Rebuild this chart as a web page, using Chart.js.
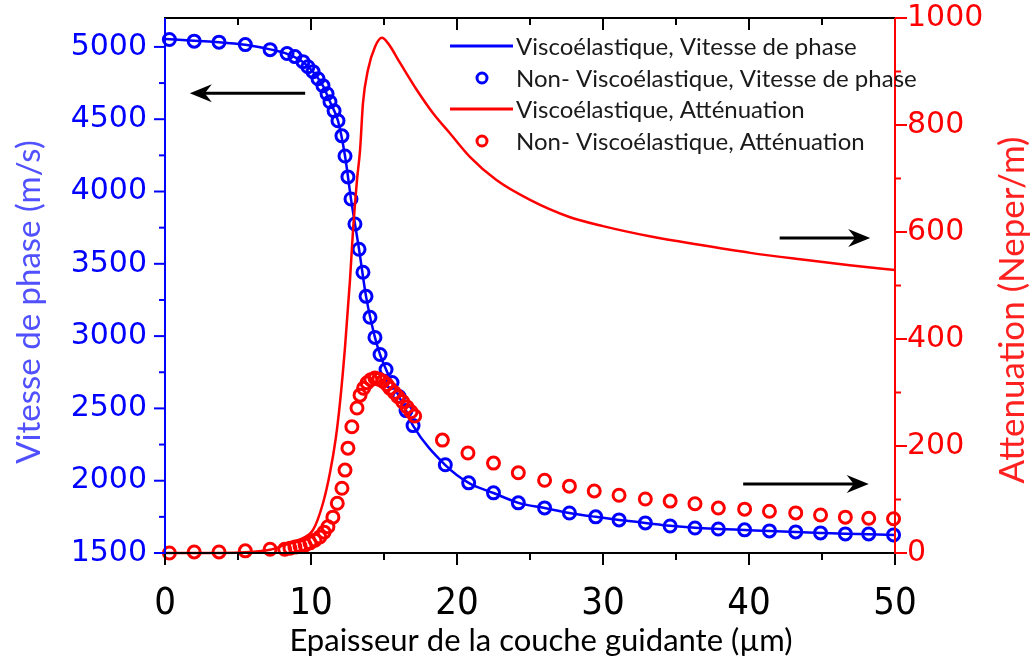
<!DOCTYPE html>
<html>
<head>
<meta charset="utf-8">
<script src="https://cdn.jsdelivr.net/npm/chart.js@4.4.1/dist/chart.umd.min.js"></script>
<style>
  html, body { margin: 0; padding: 0; background: #fff; }
  #wrap { width: 1031px; height: 666px; }
</style>
</head>
<body>
<div id="wrap"><canvas id="chart"></canvas></div>
<script>
// thickness of the guiding layer (µm)
const blueLineX = [0, 2.0, 3.7, 5.5, 7.2, 8.36, 9.45, 10.14, 10.82, 11.3, 11.85, 12.33, 12.74, 13.29, 13.77, 14.38, 14.73, 15.14, 15.55, 16.03, 16.51, 16.99, 19.2, 20.8, 22.5, 24.2, 26.0, 27.7, 29.5, 31.1, 32.9, 34.6, 36.3, 37.9, 39.7, 41.4, 43.2, 44.9, 46.6, 48.2, 50];
const blueLineV = [5055, 5042, 5033, 5015, 4983, 4952, 4896, 4828, 4730, 4620, 4488, 4246, 3948, 3601, 3275, 2991, 2873, 2769, 2679, 2582, 2485, 2381, 2108, 1985, 1915, 1847, 1811, 1777, 1750, 1729, 1708, 1688, 1674, 1666, 1659, 1652, 1646, 1639, 1633, 1630, 1625];

const blueDotX = [0.3, 2.0, 3.7, 5.5, 7.2, 8.36, 8.9, 9.45, 9.79, 10.14, 10.48, 10.82, 11.1, 11.3, 11.58, 11.85, 12.12, 12.33, 12.53, 12.74, 13.01, 13.29, 13.56, 13.77, 14.04, 14.38, 14.73, 15.14, 15.55, 16.03, 16.51, 16.99, 19.2, 20.8, 22.5, 24.2, 26.0, 27.7, 29.5, 31.1, 32.9, 34.6, 36.3, 37.9, 39.7, 41.4, 43.2, 44.9, 46.6, 48.2, 49.9];
const blueDotV = [5051, 5040, 5033, 5016, 4981, 4954, 4933, 4898, 4863, 4829, 4780, 4732, 4676, 4621, 4558, 4489, 4385, 4246, 4101, 3948, 3775, 3601, 3442, 3275, 3130, 2991, 2873, 2769, 2679, 2582, 2485, 2381, 2110, 1985, 1916, 1847, 1812, 1777, 1750, 1729, 1708, 1687, 1673, 1666, 1660, 1653, 1646, 1639, 1632, 1632, 1625];

const redLineX = [0, 3.8, 5.8, 7.2, 8.56, 9.45, 10.14, 10.82, 11.3, 11.7, 12.0, 12.33, 12.67, 12.88, 13.15, 13.36, 13.56, 13.9, 14.38, 14.86, 15.27, 16.1, 17.26, 18.36, 19.5, 20.9, 22.7, 25.0, 27.7, 30.0, 33.2, 36.6, 40.1, 43.5, 46.9, 50];
const redLineA = [0, 0, 2, 6, 19, 28, 43, 93, 150, 215, 285, 385, 510, 604, 697, 753, 841, 903, 946, 963, 953, 916, 865, 822, 785, 740, 697, 660, 628, 611, 592, 576, 561, 549, 538, 529];

const redDotX = [0.3, 2.0, 3.7, 5.5, 7.2, 8.2, 8.56, 8.9, 9.25, 9.6, 9.93, 10.27, 10.6, 10.9, 11.16, 11.5, 11.8, 12.12, 12.33, 12.53, 12.8, 13.15, 13.36, 13.6, 13.84, 14.1, 14.38, 14.65, 14.93, 15.2, 15.4, 15.7, 15.96, 16.27, 16.58, 16.85, 17.1, 19.0, 20.75, 22.5, 24.2, 26.0, 27.7, 29.4, 31.1, 32.9, 34.6, 36.3, 37.9, 39.7, 41.4, 43.2, 44.9, 46.6, 48.2, 49.9];
const redDotA = [0, 2, 2, 4, 7, 7, 9, 11, 13, 15, 19, 24, 30, 39, 49, 67, 93, 121, 155, 196, 236, 271, 295, 308, 318, 324, 327, 325, 321, 315, 308, 300, 292, 283, 273, 264, 256, 211, 187, 168, 150, 136, 125, 116, 108, 101, 97, 92, 84, 82, 78, 75, 71, 67, 65, 64];

const xTicks = [0, 10, 20, 30, 40, 50];
const leftTicks = [1500, 2000, 2500, 3000, 3500, 4000, 4500, 5000];
const rightTicks = [0, 200, 400, 600, 800, 1000];

const labels = [
  'Viscoélastique, Vitesse de phase',
  'Non- Viscoélastique, Vitesse de phase',
  'Viscoélastique, Atténuation',
  'Non- Viscoélastique, Atténuation'
];

// arrows pointing to the axis each curve belongs to
const arrows = [
  { axis: 'y', from: 9.6, to: 1.7, at: 4680 },
  { axis: 'y1', from: 42.1, to: 48.3, at: 589 },
  { axis: 'y1', from: 39.6, to: 48.2, at: 129 }
];

const BLUE = '#0000ff';
const RED = '#ff0000';
const TEXT_FONT = 'Lato, "Open Sans", sans-serif';

function pts(xs, ys) {
  return xs.map((x, i) => ({ x: x, y: ys[i] }));
}

function noPad(s) {
  s.paddingTop = 0; s.paddingBottom = 0; s.paddingLeft = 0; s.paddingRight = 0;
}

const axisDecor = {
  id: 'axisDecor',
  afterDraw(chart) {
    const ctx = chart.ctx;
    const { left, right, top, bottom } = chart.chartArea;
    const xs = chart.scales.x, yl = chart.scales.y, yr = chart.scales.y1;
    function seg(x0, y0, x1, y1) {
      ctx.beginPath(); ctx.moveTo(x0, y0); ctx.lineTo(x1, y1); ctx.stroke();
    }
    ctx.save();
    ctx.lineWidth = 2;

    ctx.strokeStyle = '#000';
    seg(left - 1, bottom, right + 1, bottom);
    seg(left - 1, top, right + 1, top);
    for (let v = 0; v <= 50; v += 5) {
      const px = xs.getPixelForValue(v);
      const major = v % 10 === 0;
      seg(px, bottom, px, bottom + (major ? 12 : 7));
      if (v > 0 && v < 50) seg(px, top, px, top + (major ? 12 : 7));
    }

    ctx.strokeStyle = BLUE;
    seg(left, top, left, bottom + 1);
    for (let v = 1500; v <= 5000; v += 250) {
      const py = yl.getPixelForValue(v);
      seg(left, py, left - (v % 500 === 0 ? 11 : 6), py);
    }

    ctx.strokeStyle = RED;
    seg(right, top, right, bottom + 1);
    for (let v = 0; v <= 1000; v += 100) {
      const py = yr.getPixelForValue(v);
      seg(right, py, right + (v % 200 === 0 ? 12 : 6), py);
    }

    // arrows
    ctx.strokeStyle = '#000';
    ctx.fillStyle = '#000';
    ctx.lineWidth = 3;
    arrows.forEach(a => {
      const y = chart.scales[a.axis].getPixelForValue(a.at);
      const x0 = xs.getPixelForValue(a.from);
      const x1 = xs.getPixelForValue(a.to);
      const d = x1 > x0 ? 1 : -1;
      seg(x0, y, x1 - d * 10, y);
      ctx.beginPath();
      ctx.moveTo(x1, y);
      ctx.lineTo(x1 - d * 22, y - 9);
      ctx.lineTo(x1 - d * 15, y);
      ctx.lineTo(x1 - d * 22, y + 9);
      ctx.closePath();
      ctx.fill();
    });

    // axis titles (both vertical ones read bottom to top)
    ctx.textAlign = 'center';
    ctx.textBaseline = 'middle';
    ctx.font = '31px ' + TEXT_FONT;
    ctx.fillStyle = '#000';
    ctx.fillText('Epaisseur de la couche guidante (µm)', 541, 641);

    ctx.font = '33px ' + TEXT_FONT;
    ctx.fillStyle = '#5050ff';
    ctx.save();
    ctx.translate(29, 302);
    ctx.rotate(-Math.PI / 2);
    ctx.fillText('Vitesse de phase (m/s)', 0, 0);
    ctx.restore();

    ctx.font = '35px ' + TEXT_FONT;
    ctx.fillStyle = '#ff2020';
    ctx.save();
    ctx.translate(1013, 310);
    ctx.rotate(-Math.PI / 2);
    ctx.fillText('Attenuation (Neper/m)', 0, 0);
    ctx.restore();

    // legend
    ctx.font = '24px ' + TEXT_FONT;
    ctx.textAlign = 'left';
    const rows = [46, 78, 109, 141];
    chart.data.datasets.forEach((ds, i) => {
      const y = rows[i];
      ctx.strokeStyle = ds.borderColor;
      ctx.lineWidth = 3;
      if (ds.showLine) {
        seg(450, y, 513, y);
      } else {
        ctx.beginPath(); ctx.arc(482, y, 5, 0, Math.PI * 2); ctx.stroke();
      }
      ctx.fillStyle = '#1a1a1a';
      ctx.fillText(ds.label, 516, y + 1);
    });
    ctx.restore();
  }
};

const ctx = document.getElementById('chart').getContext('2d');
new Chart(ctx, {
  type: 'scatter',
  data: {
    datasets: [{
      label: labels[0],
      data: pts(blueLineX, blueLineV),
      yAxisID: 'y',
      showLine: true,
      borderColor: BLUE,
      borderWidth: 2.5,
      pointRadius: 0,
      cubicInterpolationMode: 'monotone',
      order: 4,
      clip: 6
    }, {
      label: labels[1],
      data: pts(blueDotX, blueDotV),
      yAxisID: 'y',
      showLine: false,
      borderColor: BLUE,
      backgroundColor: 'rgba(0,0,0,0)',
      pointRadius: 6,
      pointBorderWidth: 3,
      order: 3,
      clip: 8
    }, {
      label: labels[2],
      data: pts(redLineX, redLineA),
      yAxisID: 'y1',
      showLine: true,
      borderColor: RED,
      borderWidth: 2.5,
      pointRadius: 0,
      cubicInterpolationMode: 'monotone',
      order: 2,
      clip: 6
    }, {
      label: labels[3],
      data: pts(redDotX, redDotA),
      yAxisID: 'y1',
      showLine: false,
      borderColor: RED,
      backgroundColor: 'rgba(0,0,0,0)',
      pointRadius: 6,
      pointBorderWidth: 3,
      order: 1,
      clip: 8
    }]
  },
  options: {
    responsive: true,
    maintainAspectRatio: false,
    animation: false,
    devicePixelRatio: 1,
    layout: { padding: { top: 18, left: 0, right: 0, bottom: 0 } },
    plugins: {
      legend: { display: false },
      tooltip: { enabled: false }
    },
    scales: {
      x: {
        type: 'linear',
        position: 'bottom',
        min: 0,
        max: 50,
        afterBuildTicks: s => { s.ticks = xTicks.map(v => ({ value: v })); },
        afterFit: s => { s.height = 113; noPad(s); },
        grid: { display: false, drawTicks: false },
        border: { display: false },
        ticks: {
          color: '#000',
          padding: 28,
          maxRotation: 0,
          callback: v => String(v),
          font: { family: '"Liberation Sans Narrow", "DejaVu Sans Condensed", "Liberation Sans", sans-serif', size: 38 }
        }
      },
      y: {
        type: 'linear',
        position: 'left',
        min: 1500,
        max: 5200,
        afterBuildTicks: s => { s.ticks = leftTicks.map(v => ({ value: v })); },
        afterFit: s => { s.width = 165; noPad(s); },
        grid: { display: false, drawTicks: false },
        border: { display: false },
        ticks: {
          color: BLUE,
          padding: 18,
          callback: v => String(v),
          font: { family: '"DejaVu Sans", "Liberation Sans", sans-serif', size: 30 }
        }
      },
      y1: {
        type: 'linear',
        position: 'right',
        min: 0,
        max: 1000,
        afterBuildTicks: s => { s.ticks = rightTicks.map(v => ({ value: v })); },
        afterFit: s => { s.width = 136; noPad(s); },
        grid: { display: false, drawTicks: false },
        border: { display: false },
        ticks: {
          color: RED,
          padding: 12,
          callback: v => String(v),
          font: { family: '"DejaVu Sans", "Liberation Sans", sans-serif', size: 30 }
        }
      }
    }
  },
  plugins: [axisDecor]
});
</script>
</body>
</html>
